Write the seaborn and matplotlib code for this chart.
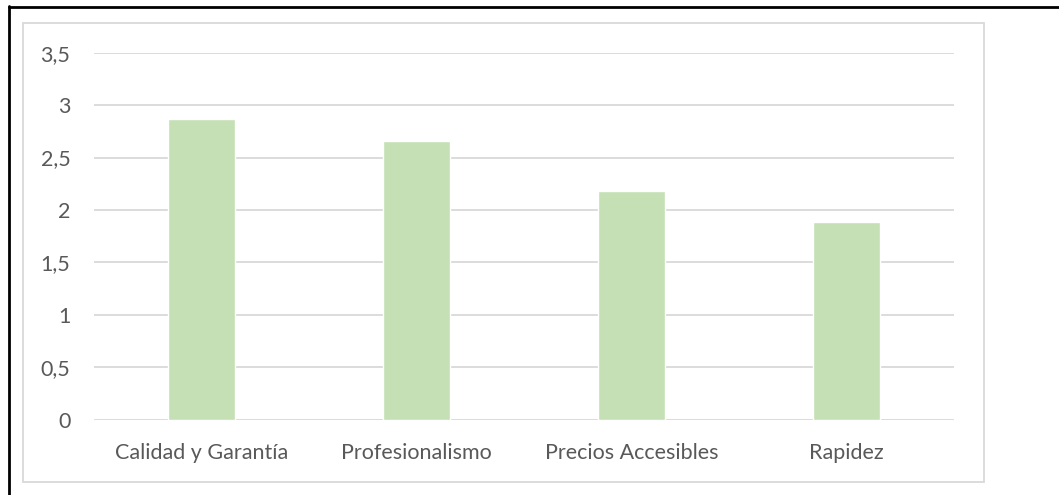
import matplotlib
matplotlib.use("Agg")
import matplotlib.pyplot as plt
import seaborn as sns
import pandas as pd
from matplotlib.patches import Rectangle
from matplotlib.lines import Line2D
from matplotlib.ticker import FuncFormatter

categories = ["Calidad y Garantía", "Profesionalismo", "Precios Accesibles", "Rapidez"]
values = [2.87, 2.655, 2.18, 1.885]
yticks = [0, 0.5, 1, 1.5, 2, 2.5, 3, 3.5]

df = pd.DataFrame({"cat": categories, "val": values})

sns.set_style("white")
plt.rcParams['font.family'] = ['Lato', 'DejaVu Sans']

W, H = 1059, 495
fig = plt.figure(figsize=(W/100, H/100), dpi=100)
ax = fig.add_axes([94/W, 1-419.5/H, (954-94)/W, (419.5-52.7)/H])

sns.barplot(data=df, x="cat", y="val", color="#C5E0B4", width=0.316, ax=ax, saturation=1)

ax.set_ylim(0, 3.5)
ax.set_xlim(-0.5, 3.5)
ax.set_yticks(yticks)
ax.yaxis.set_major_formatter(FuncFormatter(lambda v, p: (f"{v:g}").replace(".", ",")))
ax.grid(axis="y", color="#D9D9D9", linewidth=1.3)
ax.set_axisbelow(True)
for s in ax.spines.values():
    s.set_visible(False)
ax.set_xlabel("")
ax.set_ylabel("")
ax.tick_params(axis="both", length=0, labelsize=15.5, labelcolor="#595959")
ax.tick_params(axis="y", pad=17)
ax.tick_params(axis="x", pad=17)

# inner chart border
fig.patches.append(Rectangle((23/W, 1-482/H), (984-23)/W, (482-23)/H, transform=fig.transFigure,
                             fill=False, edgecolor="#D9D9D9", linewidth=1.3, zorder=0))
# outer black border (left and top)
fig.lines.append(Line2D([9/W, 9/W], [0, 1-6/H], transform=fig.transFigure, color="black", linewidth=2))
fig.lines.append(Line2D([9/W, 1], [1-7/H, 1-7/H], transform=fig.transFigure, color="black", linewidth=2))

fig.savefig("out.png", dpi=100)
